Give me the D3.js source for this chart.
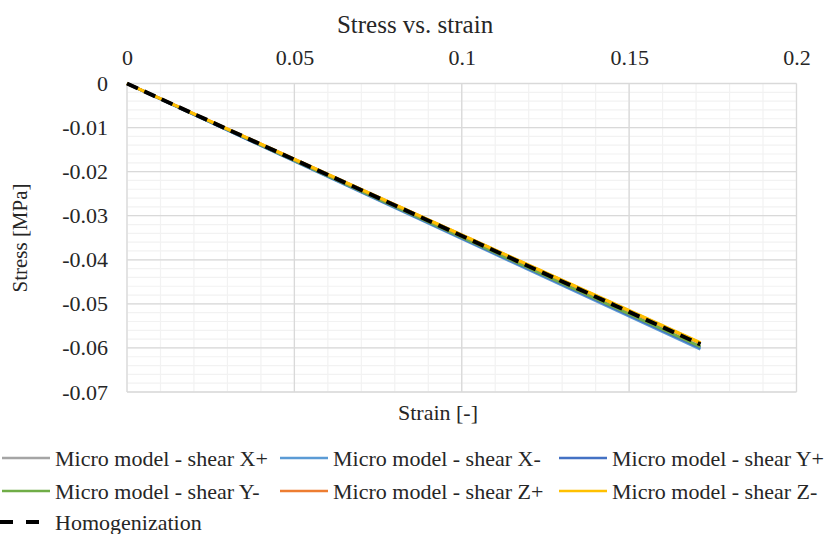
<!DOCTYPE html>
<html>
<head>
<meta charset="utf-8">
<script src="https://cdn.jsdelivr.net/npm/d3@7"></script>
<style>
  body { margin: 0; background: #fff; }
  text { font-family: "Liberation Serif", "Times New Roman", serif; fill: #262626; }
</style>
</head>
<body>
<svg id="chart" width="828" height="534"></svg>
<script>
// data
var strain = [0, 0.1713];
var seriesNames = ["Micro model - shear X+", "Micro model - shear X-", "Micro model - shear Y+",
                   "Micro model - shear Y-", "Micro model - shear Z+", "Micro model - shear Z-",
                   "Homogenization"];
var shearXp = [0, -0.0598];
var shearXm = [0, -0.0603];
var shearYp = [0, -0.0600];
var shearYm = [0, -0.0597];
var shearZp = [0, -0.0589];
var shearZm = [0, -0.0588];
var homog   = [0, -0.0592];
var seriesColors = ["#a5a5a5", "#5b9bd5", "#4472c4", "#70ad47", "#ed7d31", "#ffc000", "#000000"];
var xTicks = [0, 0.05, 0.1, 0.15, 0.2];
var yTicks = [0, -0.01, -0.02, -0.03, -0.04, -0.05, -0.06, -0.07];

var svg = d3.select("svg#chart");

var pLeft = 127, pRight = 796.5, pTop = 83.5, pBottom = 392;

var x = d3.scaleLinear().domain([0, 0.2]).range([pLeft, pRight]);
var y = d3.scaleLinear().domain([0, -0.07]).range([pTop, pBottom]);

// plain hyphen for negatives, like the original
var fmt = function(d) { return String(+d.toFixed(4)); };

// minor grid
var g = svg.append("g");
g.selectAll("line.minx")
  .data(d3.range(0, 21).map(function(i) { return i * 0.01; }))
  .enter().append("line")
  .attr("x1", function(d) { return x(d); })
  .attr("x2", function(d) { return x(d); })
  .attr("y1", pTop).attr("y2", pBottom)
  .attr("stroke", "#f2f2f2").attr("stroke-width", 1.2);

g.selectAll("line.miny")
  .data(d3.range(0, 36).map(function(i) { return -i * 0.002; }))
  .enter().append("line")
  .attr("x1", pLeft).attr("x2", pRight)
  .attr("y1", function(d) { return y(d); })
  .attr("y2", function(d) { return y(d); })
  .attr("stroke", "#f2f2f2").attr("stroke-width", 1.2);

// major grid
g.selectAll("line.majx")
  .data(xTicks)
  .enter().append("line")
  .attr("x1", function(d) { return x(d); })
  .attr("x2", function(d) { return x(d); })
  .attr("y1", pTop).attr("y2", pBottom)
  .attr("stroke", "#d9d9d9").attr("stroke-width", 1.3);

g.selectAll("line.majy")
  .data(yTicks)
  .enter().append("line")
  .attr("x1", pLeft).attr("x2", pRight)
  .attr("y1", function(d) { return y(d); })
  .attr("y2", function(d) { return y(d); })
  .attr("stroke", "#d9d9d9").attr("stroke-width", 1.3);

// axes (labels only)
var xAxis = svg.append("g")
  .attr("transform", "translate(0," + pTop + ")")
  .call(d3.axisTop(x).tickValues(xTicks).tickSize(0).tickPadding(19).tickFormat(fmt));
var yAxis = svg.append("g")
  .attr("transform", "translate(" + pLeft + ",0)")
  .call(d3.axisLeft(y).tickValues(yTicks).tickSize(0).tickPadding(19).tickFormat(fmt));
[xAxis, yAxis].forEach(function(a) {
  a.select(".domain").remove();
  a.selectAll("text").style("font-family", "Liberation Serif").style("font-size", "22px").attr("fill", "#262626");
});

// series
var allStress = [shearXp, shearXm, shearYp, shearYm, shearZp, shearZm, homog];
var line = d3.line()
  .x(function(d) { return x(d[0]); })
  .y(function(d) { return y(d[1]); });

allStress.forEach(function(s, i) {
  var pts = strain.map(function(e, j) { return [e, s[j]]; });
  var p = svg.append("path")
    .datum(pts)
    .attr("d", line)
    .attr("fill", "none")
    .attr("stroke", seriesColors[i])
    .attr("stroke-width", i === 6 ? 4 : 3);
  if (i === 6) p.attr("stroke-dasharray", "12,7");
});

// titles
svg.append("text").attr("x", 415).attr("y", 33).attr("text-anchor", "middle")
  .style("font-size", "25px").text("Stress vs. strain");
svg.append("text").attr("x", 438).attr("y", 420).attr("text-anchor", "middle")
  .style("font-size", "22px").text("Strain [-]");
svg.append("text").attr("transform", "translate(27,238) rotate(-90)").attr("text-anchor", "middle")
  .style("font-size", "21px").text("Stress [MPa]");

// legend
var legX = [0, 278, 557], legY = [458, 491, 522];
seriesNames.forEach(function(n, i) {
  var lx = legX[i % 3], ly = legY[Math.floor(i / 3)];
  var l = svg.append("line")
    .attr("x1", lx + 2).attr("x2", lx + 50)
    .attr("y1", ly).attr("y2", ly)
    .attr("stroke", seriesColors[i])
    .attr("stroke-width", i === 6 ? 4 : 2.5);
  if (i === 6) l.attr("stroke-dasharray", "13,13").attr("x1", lx).attr("x2", lx + 40);
  svg.append("text").attr("x", lx + 55).attr("y", ly).attr("dy", "0.35em")
    .style("font-size", "22px").text(n);
});
</script>
</body>
</html>
